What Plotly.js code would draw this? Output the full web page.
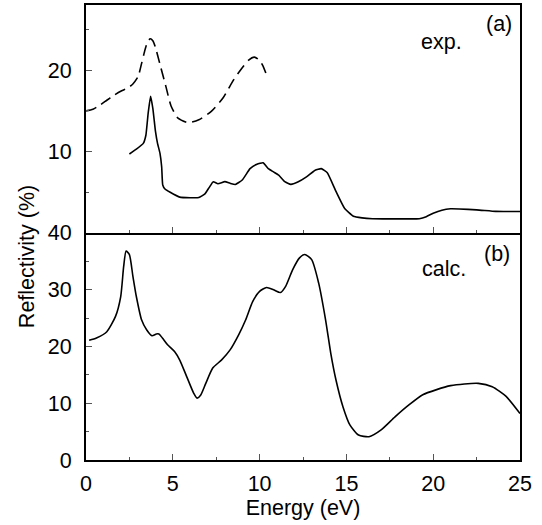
<!DOCTYPE html>
<html>
<head>
<meta charset="utf-8">
<script src="https://cdn.plot.ly/plotly-3.0.1.min.js"></script>
<style>html,body{margin:0;padding:0;background:#fff;}#chart{width:542px;height:525px;}</style>
</head>
<body>
<div id="chart"></div>
<script>
// Panel (a): experiment, dashed curve
const expDashedE = [0, 0.4, 0.8, 1.2, 1.6, 2.0, 2.4, 2.7, 3.0, 3.2, 3.4, 3.55, 3.7, 3.85, 4.0, 4.25, 4.6, 4.9, 5.3, 5.9, 6.5, 7.2, 7.9, 8.5, 9.0, 9.35, 9.7, 10.0, 10.2, 10.4];
const expDashedR = [15.0, 15.2, 15.7, 16.3, 16.9, 17.4, 17.8, 18.3, 19.2, 20.8, 22.5, 23.5, 23.85, 23.6, 22.8, 20.8, 18.0, 15.6, 14.1, 13.55, 13.9, 14.9, 16.6, 18.8, 20.3, 21.2, 21.6, 21.2, 20.5, 19.4];

// Panel (a): experiment, solid curve
const expSolidE = [2.5, 2.9, 3.3, 3.45, 3.58, 3.72, 3.85, 4.0, 4.12, 4.26, 4.36, 4.42, 4.55, 4.85, 5.4, 6.0, 6.5, 6.85, 7.1, 7.33, 7.6, 8.0, 8.3, 8.6, 9.0, 9.45, 9.85, 10.2, 10.5, 10.8, 11.1, 11.45, 11.8, 12.2, 12.7, 13.2, 13.55, 13.9, 14.4, 14.9, 15.4, 15.9, 16.5, 17.5, 18.5, 19.2, 19.6, 20.0, 20.5, 21.0, 21.5, 22.5, 23.6, 24.3, 25];
const expSolidR = [9.7, 10.3, 11.0, 12.0, 14.7, 16.8, 15.3, 12.5, 11.0, 9.8, 8.1, 5.9, 5.4, 5.0, 4.4, 4.33, 4.35, 4.8, 5.6, 6.3, 6.05, 6.3, 6.1, 5.95, 6.5, 7.9, 8.45, 8.62, 7.9, 7.5, 7.1, 6.3, 5.97, 6.25, 6.88, 7.7, 7.9, 7.4, 5.1, 3.0, 2.05, 1.85, 1.75, 1.73, 1.73, 1.75, 2.0, 2.42, 2.8, 2.97, 2.95, 2.84, 2.65, 2.63, 2.63];

// Panel (b): calculation
const calcE = [0.18, 0.6, 1.2, 1.7, 2.0, 2.17, 2.31, 2.5, 2.7, 2.9, 3.2, 3.5, 3.8, 4.05, 4.2, 4.4, 4.7, 5.1, 5.4, 5.8, 6.2, 6.4, 6.6, 6.9, 7.3, 7.8, 8.3, 8.8, 9.2, 9.6, 10.0, 10.4, 10.8, 11.2, 11.5, 11.9, 12.3, 12.6, 13.0, 13.4, 13.8, 14.1, 14.4, 14.8, 15.2, 15.7, 16.3, 17.0, 17.8, 18.6, 19.4, 20.2, 21.0, 21.8, 22.6, 23.4, 24.2, 25.0];
const calcR = [21.1, 21.5, 22.6, 25.3, 28.8, 34.1, 36.8, 36.2, 32.4, 28.8, 24.7, 22.9, 21.9, 22.2, 22.2, 21.5, 20.3, 19.1, 17.6, 14.7, 11.8, 10.9, 11.4, 13.5, 16.2, 17.6, 19.4, 22.1, 24.7, 27.9, 29.7, 30.4, 30.0, 29.5, 30.6, 33.5, 35.6, 36.2, 35.3, 31.2, 24.7, 18.8, 14.1, 9.4, 6.2, 4.4, 4.1, 5.3, 7.6, 9.7, 11.5, 12.4, 13.1, 13.4, 13.5, 12.9, 11.2, 8.2];

const xTickVals = [0, 5, 10, 15, 20, 25];
const yTickValsB = [0, 10, 20, 30, 40];
const yTickValsA = [10, 20];

const FONT = 'Liberation Sans, Arial, Helvetica, sans-serif';
const FS = 21.5;

const traces = [
  {x: expDashedE, y: expDashedR, xaxis: 'x2', yaxis: 'y2', mode: 'lines',
   line: {color: '#000', width: 1.6, dash: '11px,6px', shape: 'spline', smoothing: 0.6}, hoverinfo: 'skip'},
  {x: expSolidE, y: expSolidR, xaxis: 'x2', yaxis: 'y2', mode: 'lines',
   line: {color: '#000', width: 1.6, shape: 'spline', smoothing: 0.4}, hoverinfo: 'skip'},
  {x: calcE, y: calcR, xaxis: 'x', yaxis: 'y', mode: 'lines',
   line: {color: '#000', width: 1.6, shape: 'spline', smoothing: 0.6}, hoverinfo: 'skip'}
];

const axisCommon = {
  showline: true, linecolor: '#000', linewidth: 2, mirror: true,
  ticks: 'inside', ticklen: 6, tickwidth: 1, tickcolor: '#555',
  showgrid: false, zeroline: false,
  tickfont: {family: FONT, size: FS, color: '#000'}
};

const layout = {
  width: 542, height: 525,
  margin: {l: 86, r: 22, t: 5, b: 65},
  paper_bgcolor: '#fff', plot_bgcolor: '#fff',
  showlegend: false,
  font: {family: FONT, size: FS, color: '#000'},
  xaxis: Object.assign({}, axisCommon, {
    range: [0, 25], anchor: 'y', tickmode: 'array', tickvals: xTickVals, mirror: false,
    minor: {tickmode: 'linear', tick0: 0, dtick: 2.5, ticks: 'inside', ticklen: 3, tickcolor: '#555'},
    ticklabelstandoff: 3,
    title: {text: 'Energy (eV)', font: {family: FONT, size: FS, color: '#000'}, standoff: 4}
  }),
  xaxis2: Object.assign({}, axisCommon, {
    range: [0, 25], anchor: 'y2', matches: 'x', tickmode: 'array', tickvals: xTickVals,
    showticklabels: false,
    minor: {tickmode: 'linear', tick0: 0, dtick: 2.5, ticks: 'inside', ticklen: 3, tickcolor: '#555'}
  }),
  yaxis: Object.assign({}, axisCommon, {
    domain: [0, 0.499], range: [0, 40], anchor: 'x', tickmode: 'array', tickvals: yTickValsB,
    minor: {tickmode: 'linear', tick0: 0, dtick: 5, ticks: 'inside', ticklen: 3, tickcolor: '#555'},
    ticklabelstandoff: 8
  }),
  yaxis2: Object.assign({}, axisCommon, {
    domain: [0.499, 1], range: [0, 28], anchor: 'x2', tickmode: 'array', tickvals: yTickValsA,
    minor: {tickmode: 'array', tickvals: [5, 15, 25], ticks: 'inside', ticklen: 3, tickcolor: '#555'},
    ticklabelstandoff: 8
  }),
  annotations: [
    {text: '(a)', xref: 'x2', yref: 'y2', x: 23.8, y: 25.7, showarrow: false,
     font: {family: FONT, size: FS, color: '#000'}},
    {text: 'exp.', xref: 'x2', yref: 'y2', x: 20.5, y: 23.4, showarrow: false,
     font: {family: FONT, size: FS, color: '#000'}},
    {text: '(b)', xref: 'x', yref: 'y', x: 23.7, y: 36.3, showarrow: false,
     font: {family: FONT, size: FS, color: '#000'}},
    {text: 'calc.', xref: 'x', yref: 'y', x: 20.6, y: 33.6, showarrow: false,
     font: {family: FONT, size: FS, color: '#000'}},
    {text: 'Reflectivity (%)', xref: 'paper', yref: 'paper', x: -0.136, y: 0.448,
     xanchor: 'center', yanchor: 'middle',
     textangle: -90, showarrow: false, font: {family: FONT, size: FS, color: '#000'}}
  ]
};

Plotly.newPlot('chart', traces, layout, {staticPlot: true, displayModeBar: false});
</script>
</body>
</html>
